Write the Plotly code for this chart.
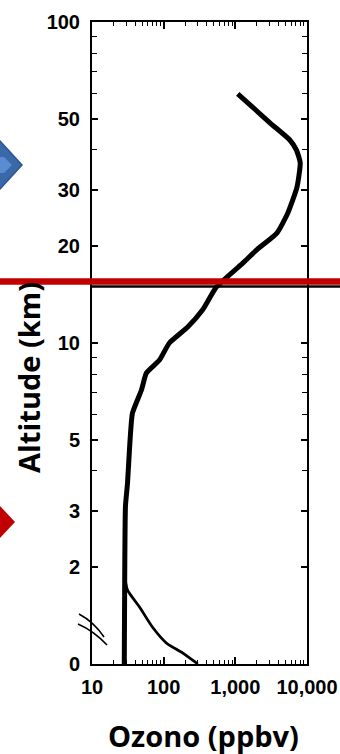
import plotly.graph_objects as go

# ---------------- data ----------------
# main ozone profile: ozone mixing ratio (ppbv) vs altitude (km)
ozone_main = [1080, 1740, 3040, 5760, 7130, 8040, 7250, 5400, 3800, 2040, 1400, 1260,
              546, 348, 215, 120, 87.5, 57.5, 49, 36.7, 33.3, 31.3, 29.3, 28.6, 28.2]
alt_main = [59.7, 54.3, 48.5, 42.9, 39.9, 36.4, 30.6, 25.4, 22.0, 19.6, 18.1, 17.7,
            14.95, 12.67, 11.2, 10.0, 8.85, 8.07, 7.14, 6.05, 4.64, 3.66, 3.1, 1.8, 0.0]
# polluted boundary-layer branch
ozone_branch = [29.0, 31.3, 46, 70, 110, 183, 287, 300]
alt_branch = [1.75, 1.53, 1.18, 0.76, 0.43, 0.23, 0.02, 0.0]

tropopause_km = 15.0      # black horizontal line of the original figure
red_marker_km = 15.55     # red highlight line

x_tickvals = [10, 100, 1000, 10000]
x_ticktext = ["10", "100", "1,000", "10,000"]
x_minor = [20, 30, 40, 50, 60, 70, 80, 90, 200, 300, 400, 500, 600, 700, 800, 900,
           2000, 3000, 4000, 5000, 6000, 7000, 8000, 9000]
y_tick_km = [0, 2, 3, 5, 10, 20, 30, 50, 100]
y_ticktext = ["0", "2", "3", "5", "10", "20", "30", "50", "100"]
y_minor_km = [4, 6, 7, 8, 9, 40, 60, 70, 80, 90]


# broken axis: 0-2 km drawn linearly below the log part (0 km sits at the 1 km level)
def disp_alt(a):
    return a if a >= 2 else 2 ** (a / 2.0)


# ---------------- layout geometry ----------------
W, H = 340, 754
PL, PR, PT, PB = 92, 307, 22, 664   # wanted plot-area edges in the screenshot
L, T = PL, PT
R = W - PR
B = H - PB


def px_x(p):
    return (p - PL) / (PR - PL)


def px_y(p):
    return (PB - p) / (PB - PT)


fig = go.Figure()
fig.add_trace(go.Scatter(
    x=ozone_main, y=[disp_alt(a) for a in alt_main], mode="lines",
    line=dict(color="black", width=5, shape="spline", smoothing=0.5),
    hoverinfo="skip", showlegend=False))
fig.add_trace(go.Scatter(
    x=ozone_branch, y=[disp_alt(a) for a in alt_branch], mode="lines",
    line=dict(color="black", width=2.8, shape="spline", smoothing=0.6),
    hoverinfo="skip", showlegend=False))

tickfont = dict(family="Liberation Sans, Arial, sans-serif", size=20, color="black",
                weight="bold")

fig.update_xaxes(
    type="log", range=[1, 4], showline=True, linecolor="black", linewidth=2,
    mirror="ticks", ticks="inside", ticklen=7, tickwidth=1.5, tickcolor="black",
    tickvals=x_tickvals, ticktext=x_ticktext, tickfont=tickfont,
    ticklabelstandoff=4, showgrid=False, zeroline=False, automargin=False,
    minor=dict(ticks="inside", ticklen=4, tickwidth=1, tickcolor="black",
               tickvals=x_minor, showgrid=False))
fig.update_yaxes(
    type="log", range=[0, 2], showline=True, linecolor="black", linewidth=2,
    mirror="ticks", ticks="inside", ticklen=6, tickwidth=1.5, tickcolor="black",
    tickvals=[disp_alt(a) for a in y_tick_km], ticktext=y_ticktext, tickfont=tickfont,
    ticklabelstandoff=6, showgrid=False, zeroline=False, automargin=False,
    minor=dict(ticks="inside", ticklen=5, tickwidth=1, tickcolor="black",
               tickvals=y_minor_km, showgrid=False))

shapes = []
# black tropopause line (extends past the right axis)
shapes.append(dict(type="line", xref="paper", yref="y",
                   x0=0, x1=px_x(W + 10), y0=tropopause_km, y1=tropopause_km,
                   line=dict(color="black", width=2.5), layer="above"))
# red highlight line across the whole width
shapes.append(dict(type="line", xref="paper", yref="y",
                   x0=px_x(-10), x1=px_x(W + 10), y0=red_marker_km, y1=red_marker_km,
                   line=dict(color="#C00000", width=6.5), layer="above"))


def poly(points):
    d = "M " + " L ".join(f"{px_x(x):.5f},{px_y(y):.5f}" for x, y in points) + " Z"
    return d


# blue arrow (cut at the left edge)
shapes.append(dict(type="path", xref="paper", yref="paper",
                   path=poly([(-20, 141), (0, 141), (22, 165), (0, 189), (-20, 189)]),
                   fillcolor="#3B68A8", line=dict(color="#2E5590", width=1.5), layer="above"))
shapes.append(dict(type="path", xref="paper", yref="paper",
                   path=poly([(-20, 157), (4, 157), (12, 165), (4, 173), (-20, 173)]),
                   fillcolor="#5A8CD2", line=dict(width=0), layer="above"))
# red arrow
shapes.append(dict(type="path", xref="paper", yref="paper",
                   path=poly([(-20, 506), (0, 506), (15, 522), (0, 538), (-20, 538)]),
                   fillcolor="#C00000", line=dict(width=0), layer="above"))


# axis break marks
def curve(p0, c, p1):
    return (f"M {px_x(p0[0]):.5f},{px_y(p0[1]):.5f} Q {px_x(c[0]):.5f},{px_y(c[1]):.5f} "
            f"{px_x(p1[0]):.5f},{px_y(p1[1]):.5f}")


shapes.append(dict(type="path", xref="paper", yref="paper",
                   path=curve((79, 614), (94, 622), (104, 637)),
                   line=dict(color="black", width=1.6)))
shapes.append(dict(type="path", xref="paper", yref="paper",
                   path=curve((78, 624), (94, 631), (107, 645)),
                   line=dict(color="black", width=1.6)))

titlefont = dict(family="Open Sans, sans-serif", size=29, color="black", weight="bold")
annotations = [
    dict(text="Altitude (km)", xref="paper", yref="paper", x=px_x(28), y=px_y(378),
         xanchor="center", yanchor="middle", textangle=-90, showarrow=False, font=titlefont),
    dict(text="Ozono (ppbv)", xref="paper", yref="paper", x=px_x(203), y=px_y(735),
         xanchor="center", yanchor="middle", showarrow=False, font=titlefont),
]

fig.update_layout(
    width=W, height=H, margin=dict(l=L, r=R, t=T, b=B, pad=0),
    paper_bgcolor="white", plot_bgcolor="white", autosize=False,
    shapes=shapes, annotations=annotations, showlegend=False)

# remove the default page margin so the figure fills the window exactly
fig.write_html("out.html",
               config={"displayModeBar": False, "responsive": False},
               post_script="document.body.style.margin='0';document.body.style.overflow='hidden';")
